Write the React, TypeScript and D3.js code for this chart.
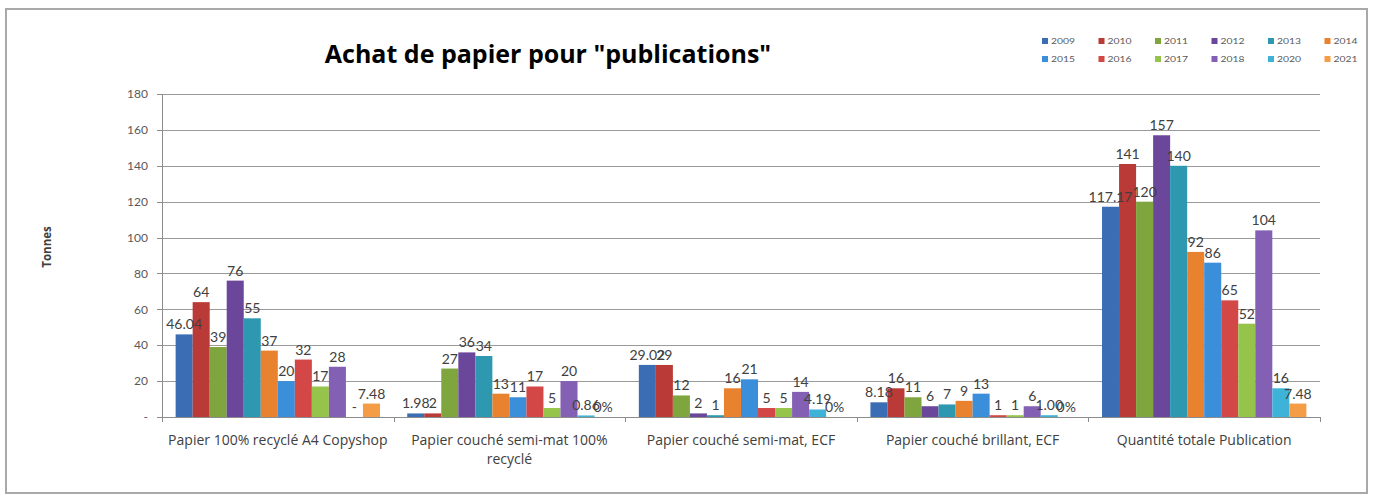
import React, { useEffect, useRef } from "react";
import * as d3 from "d3";

const categories = [
  "Papier 100% recyclé A4 Copyshop",
  "Papier couché semi-mat 100% recyclé",
  "Papier couché semi-mat, ECF",
  "Papier couché brillant, ECF",
  "Quantité totale Publication",
];

const seriesNames = ["2009", "2010", "2011", "2012", "2013", "2014", "2015", "2016", "2017", "2018", "2020", "2021"];
const seriesColors = ["#3A6DB3", "#B93A37", "#7FA63E", "#6A479A", "#2E98B1", "#E8822F", "#3A8EDA", "#D44747", "#96C44A", "#8360B4", "#3FB3D7", "#F59C46"];

const v2009 = [46.04, 1.98, 29.02, 8.18, 117.17];
const v2010 = [64, 2, 29, 16, 141];
const v2011 = [39, 27, 12, 11, 120];
const v2012 = [76, 36, 2, 6, 157];
const v2013 = [55, 34, 1, 7, 140];
const v2014 = [37, 13, 16, 9, 92];
const v2015 = [20, 11, 21, 13, 86];
const v2016 = [32, 17, 5, 1, 65];
const v2017 = [17, 5, 5, 1, 52];
const v2018 = [28, 20, 14, 6, 104];
const v2020 = [0, 0.86, 4.19, 1.0, 16];
const v2021 = [7.48, 0, 0, 0, 7.48];

const l2009 = ["46.04", "1.98", "29.02", "8.18", "117.17"];
const l2010 = ["64", "2", "29", "16", "141"];
const l2011 = ["39", "27", "12", "11", "120"];
const l2012 = ["76", "36", "2", "6", "157"];
const l2013 = ["55", "34", "1", "7", "140"];
const l2014 = ["37", "13", "16", "9", "92"];
const l2015 = ["20", "11", "21", "13", "86"];
const l2016 = ["32", "17", "5", "1", "65"];
const l2017 = ["17", "5", "5", "1", "52"];
const l2018 = ["28", "20", "14", "6", "104"];
const l2020 = ["-", "0.86", "4.19", "1.00", "16"];
const l2021 = ["7.48", "0%", "0%", "0%", "7.48"];

const seriesValues = [v2009, v2010, v2011, v2012, v2013, v2014, v2015, v2016, v2017, v2018, v2020, v2021];
const seriesLabels = [l2009, l2010, l2011, l2012, l2013, l2014, l2015, l2016, l2017, l2018, l2020, l2021];

const yTicks = [0, 20, 40, 60, 80, 100, 120, 140, 160, 180];

const FONT = "Lato, 'Open Sans', sans-serif";
const FONT2 = "'Open Sans', Lato, sans-serif";

export default function App() {
  const ref = useRef<SVGSVGElement>(null);

  useEffect(() => {
    const svg = d3.select(ref.current);
    svg.selectAll("*").remove();
    const W = 1373, H = 497;
    const left = 162, right = 1320, top = 94, bottom = 417;

    svg.append("rect").attr("x", 0).attr("y", 0).attr("width", W).attr("height", H).attr("fill", "#fff");
    svg.append("rect").attr("x", 6).attr("y", 9).attr("width", 1361).attr("height", 484)
      .attr("fill", "none").attr("stroke", "#a9a9a9").attr("stroke-width", 2);

    const x0 = d3.scaleBand<string>().domain(categories).range([left, right]).padding(0);
    const x1 = d3.scaleBand<string>().domain(seriesNames).range([0, x0.bandwidth()]).paddingInner(0).paddingOuter(0.8);
    const y = d3.scaleLinear().domain([0, 180]).range([bottom, top]);

    // gridlines
    svg.append("g").selectAll("line").data(yTicks.filter((t) => t > 0)).join("line")
      .attr("x1", left).attr("x2", right)
      .attr("y1", (d) => Math.round(y(d)) + 0.5).attr("y2", (d) => Math.round(y(d)) + 0.5)
      .attr("stroke", "#9a9a9a").attr("stroke-width", 1);

    // y axis
    const ya = svg.append("g");
    ya.append("line").attr("x1", left + 0.5).attr("x2", left + 0.5).attr("y1", top).attr("y2", bottom)
      .attr("stroke", "#8c8c8c");
    ya.selectAll("line.t").data(yTicks).join("line").attr("class", "t")
      .attr("x1", left - 5).attr("x2", left)
      .attr("y1", (d) => Math.round(y(d)) + 0.5).attr("y2", (d) => Math.round(y(d)) + 0.5)
      .attr("stroke", "#8c8c8c");
    ya.selectAll("text").data(yTicks).join("text")
      .attr("x", 148).attr("y", (d) => y(d)).attr("dy", "0.35em")
      .attr("text-anchor", "end").attr("font-family", FONT).attr("font-size", 12).attr("fill", "#595959")
      .text((d) => (d === 0 ? "-" : String(d)));

    svg.append("text").attr("transform", "translate(51,247) rotate(-90)")
      .attr("text-anchor", "middle").attr("font-family", FONT2).attr("font-size", 11.5).attr("font-weight", "bold")
      .attr("fill", "#404040").text("Tonnes");

    // bars
    const gBars = svg.append("g");
    seriesNames.forEach((s, si) => {
      const vals = seriesValues[si];
      gBars.selectAll(`rect.s${si}`).data(vals).join("rect").attr("class", `s${si}`)
        .attr("x", (d, i) => (x0(categories[i]) as number) + (x1(s) as number))
        .attr("width", x1.bandwidth())
        .attr("y", (d) => y(d))
        .attr("height", (d) => bottom - y(d))
        .attr("fill", seriesColors[si]);
    });

    // x axis
    svg.append("line").attr("x1", left).attr("x2", right).attr("y1", bottom + 0.5).attr("y2", bottom + 0.5)
      .attr("stroke", "#8c8c8c");
    const bounds = categories.map((c) => x0(c) as number).concat([right]);
    svg.append("g").selectAll("line").data(bounds).join("line")
      .attr("x1", (d) => Math.round(d) + 0.5).attr("x2", (d) => Math.round(d) + 0.5)
      .attr("y1", bottom).attr("y2", bottom + 5).attr("stroke", "#8c8c8c");

    // data labels
    const gLab = svg.append("g");
    seriesNames.forEach((s, si) => {
      const vals = seriesValues[si];
      gLab.selectAll(`text.s${si}`).data(vals).join("text").attr("class", `s${si}`)
        .attr("x", (d, i) => (x0(categories[i]) as number) + (x1(s) as number) + x1.bandwidth() / 2)
        .attr("y", (d) => y(d) - 5)
        .attr("text-anchor", "middle").attr("font-family", FONT).attr("font-size", 14).attr("fill", "#404040")
        .text((d, i) => seriesLabels[si][i]);
    });

    // category labels with wrapping
    const gCat = svg.append("g");
    categories.forEach((c) => {
      const cx = (x0(c) as number) + x0.bandwidth() / 2;
      const t = gCat.append("text").attr("x", cx).attr("y", 445)
        .attr("text-anchor", "middle").attr("font-family", FONT2).attr("font-size", 14).attr("fill", "#404040");
      const words = c.split(" ");
      let line: string[] = [];
      let lineNo = 0;
      let tspan = t.append("tspan").attr("x", cx).attr("y", 445);
      words.forEach((w) => {
        line.push(w);
        tspan.text(line.join(" "));
        if ((tspan.node() as SVGTSpanElement).getComputedTextLength() > x0.bandwidth() - 2 && line.length > 1) {
          line.pop();
          tspan.text(line.join(" "));
          line = [w];
          lineNo++;
          tspan = t.append("tspan").attr("x", cx).attr("y", 445 + lineNo * 19).text(w);
        }
      });
    });

    // title
    svg.append("text").attr("x", 548).attr("y", 63).attr("text-anchor", "middle")
      .attr("font-family", FONT2).attr("font-size", 25).attr("font-weight", "bold").attr("fill", "#000")
      .text('Achat de papier pour "publications"');

    // legend
    const gLeg = svg.append("g");
    seriesNames.forEach((s, si) => {
      const row = Math.floor(si / 6);
      const col = si % 6;
      const lx = 1042 + col * 56.5;
      const ly = 41 + row * 18;
      gLeg.append("rect").attr("x", lx).attr("y", ly - 3).attr("width", 6).attr("height", 6).attr("fill", seriesColors[si]);
      gLeg.append("text").attr("x", lx + 9).attr("y", ly).attr("dy", "0.35em")
        .attr("font-family", FONT).attr("font-size", 8).attr("fill", "#595959")
        .attr("textLength", 24).attr("lengthAdjust", "spacingAndGlyphs").text(s);
    });
  }, []);

  return (
    <svg ref={ref} width={1373} height={497} style={{ position: "absolute", left: 0, top: 0, display: "block" }} />
  );
}
